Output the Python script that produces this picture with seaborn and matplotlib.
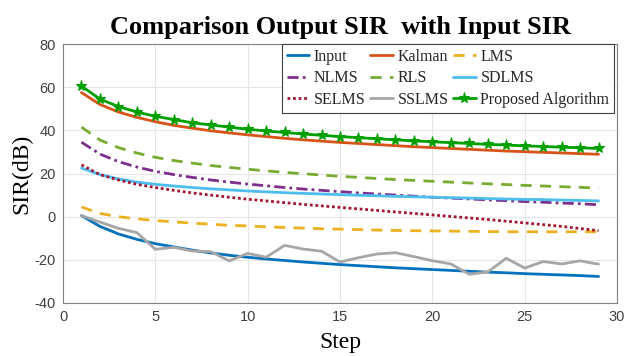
import numpy as np
import matplotlib
matplotlib.use("Agg")
import matplotlib.pyplot as plt
import seaborn as sns

# data
steps = list(range(1, 30))
sir_input = [0.5, -4.5, -8, -10.5, -12.5, -14, -15.5, -16.8, -17.9, -18.8, -19.6, -20.3, -21, -21.6, -22.2,
             -22.7, -23.2, -23.7, -24.1, -24.5, -24.9, -25.3, -25.7, -26, -26.4, -26.7, -27, -27.3, -27.7]
sir_kalman = [57.5, 52, 48.5, 46, 44, 42.3, 41, 39.8, 38.8, 37.9, 37.1, 36.3, 35.6, 35, 34.4,
              33.9, 33.4, 32.9, 32.4, 32, 31.6, 31.2, 30.8, 30.4, 30.1, 29.8, 29.5, 29.2, 28.9]
sir_lms = [4.5, 1.5, 0, -1, -1.8, -2.4, -3, -3.5, -4, -4.3, -4.7, -5, -5.3, -5.6, -5.8,
           -6, -6.2, -6.4, -6.5, -6.6, -6.7, -6.8, -6.9, -7, -7, -7, -7, -7, -7]
sir_nlms = [34.5, 29, 25.5, 23, 21, 19.5, 18.2, 17, 16, 15.1, 14.3, 13.5, 12.8, 12.2, 11.6,
            11, 10.5, 10, 9.5, 9, 8.6, 8.2, 7.8, 7.4, 7, 6.7, 6.3, 6, 5.5]
sir_rls = [41.5, 35.5, 32, 29.5, 27.5, 26, 24.8, 23.7, 22.8, 22, 21.2, 20.5, 19.9, 19.3, 18.7,
           18.2, 17.7, 17.2, 16.8, 16.4, 16, 15.6, 15.2, 14.9, 14.5, 14.2, 13.9, 13.6, 13.2]
sir_sdlms = [22.5, 19.5, 17.5, 16, 15, 14.2, 13.5, 12.9, 12.4, 11.9, 11.5, 11.1, 10.8, 10.5, 10.2,
             9.9, 9.7, 9.4, 9.2, 9, 8.8, 8.6, 8.4, 8.2, 8, 7.9, 7.7, 7.5, 7.3]
sir_selms = [24, 19.5, 17, 15, 13.5, 12.2, 11, 10, 9, 8.1, 7.3, 6.5, 5.7, 5, 4.3,
             3.6, 2.9, 2.2, 1.5, 0.8, 0.1, -0.6, -1.3, -2.1, -2.9, -3.7, -4.5, -5.5, -6.5]
sir_sslms = [0.5, -2.5, -5.4, -7.4, -15.1, -14.2, -15.9, -16.2, -20.5, -17, -18.8, -13.3, -15, -16, -21,
             -19, -17.3, -16.7, -18.5, -20.4, -21.9, -26.7, -25.6, -19.3, -23.8, -20.8, -21.9, -20.5, -22]
sir_proposed = [60.5, 54.5, 51, 48.5, 46.5, 45, 43.5, 42.5, 41.5, 40.5, 39.7, 39, 38.3, 37.7, 37.1,
                36.6, 36.1, 35.6, 35.1, 34.7, 34.3, 33.9, 33.5, 33.2, 32.8, 32.5, 32.2, 31.9, 31.6]

sns.set_style("whitegrid")
plt.rcParams['font.family'] = ['Liberation Sans', 'DejaVu Sans']
plt.rcParams['axes.unicode_minus'] = False
serif = ['Liberation Serif', 'DejaVu Serif']

fig = plt.figure(figsize=(6.27, 3.56), dpi=100)
ax = fig.add_axes([63 / 627, 53 / 356, 554 / 627, 259 / 356])

series = [
    ("Input", sir_input, "#0072BD", "-", None),
    ("Kalman", sir_kalman, "#D95319", "-", None),
    ("LMS", sir_lms, "#EDB120", (0, (4, 3)), None),
    ("NLMS", sir_nlms, "#7E2F8E", (0, (4, 1.5, 1, 1.5)), None),
    ("RLS", sir_rls, "#77AC30", (0, (4, 3)), None),
    ("SDLMS", sir_sdlms, "#4DBEEE", "-", None),
    ("SELMS", sir_selms, "#A2142F", (0, (1, 1)), None),
    ("SSLMS", sir_sslms, "#A6A6A6", "-", None),
    ("Proposed Algorithm", sir_proposed, "#00A000", "-", "*"),
]

for name, vals, col, ls, mk in series:
    sns.lineplot(x=steps, y=vals, ax=ax, color=col, linestyle=ls, linewidth=2.0,
                 marker=mk, markersize=8, markeredgecolor=col, label=name)

ax.set_xlim(0, 30)
ax.set_ylim(-40, 80)
ax.set_xticks(range(0, 31, 5))
ax.set_yticks(range(-40, 81, 20))
ax.grid(True, color="#e6e6e6", linewidth=0.8)
ax.tick_params(direction="in", labelsize=10.5, colors="#404040", length=3, pad=5)
for sp in ax.spines.values():
    sp.set_color("#808080")
    sp.set_linewidth(0.8)

ax.set_title("Comparison Output SIR  with Input SIR", fontsize=19, fontweight="bold",
             family=serif, pad=7, color="black")
ax.set_xlabel("Step", fontsize=17, family=serif, labelpad=6, color="black")
ax.set_ylabel("SIR(dB)", fontsize=17, family=serif, labelpad=2, color="black")

# legend filled row-wise like the original
handles, labels = ax.get_legend_handles_labels()
order = [0, 3, 6, 1, 4, 7, 2, 5, 8]
leg = ax.legend([handles[i] for i in order], [labels[i] for i in order], ncol=3,
                loc="upper right", bbox_to_anchor=(0.995, 1.0),
                prop={'family': serif, 'size': 11.5}, frameon=True,
                fancybox=False, edgecolor="#404040", framealpha=1, borderaxespad=0,
                handlelength=1.4, handletextpad=0.3, columnspacing=0.3, labelspacing=0.35,
                borderpad=0.3)
leg.get_frame().set_linewidth(0.8)

fig.savefig("out.png", dpi=100)
